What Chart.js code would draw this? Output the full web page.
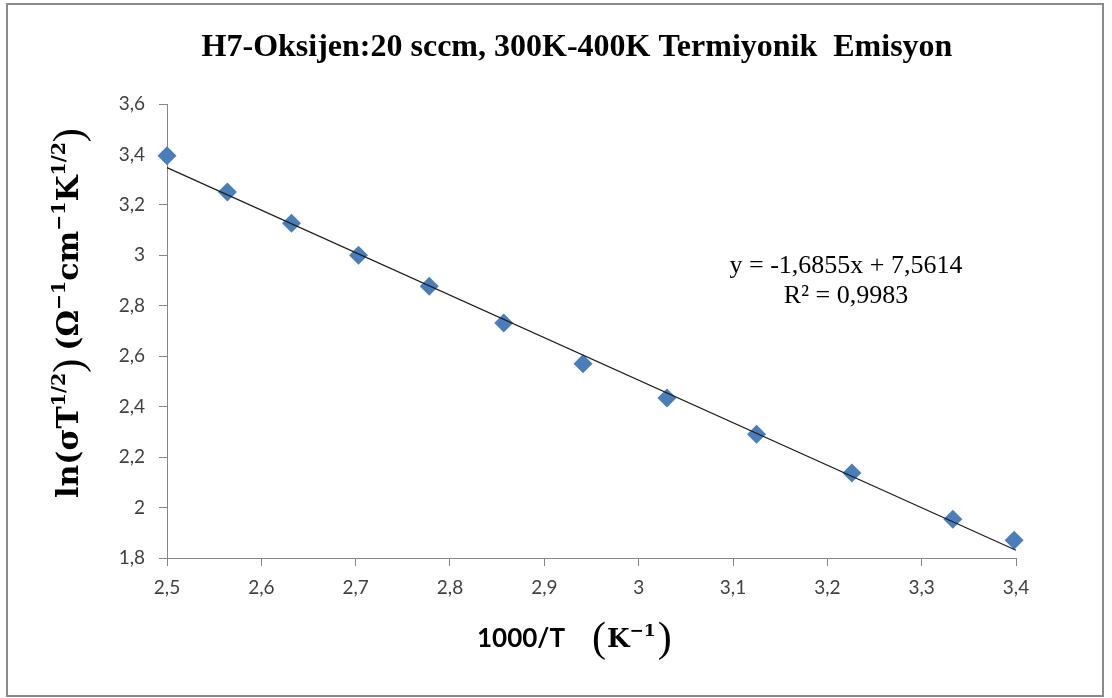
<!DOCTYPE html>
<html>
<head>
<meta charset="utf-8">
<script src="https://cdn.jsdelivr.net/npm/chart.js@4.4.0/dist/chart.umd.min.js"></script>
<style>
  html, body { margin: 0; padding: 0; background: #fff; }
  #wrap { width: 1112px; height: 698px; }
</style>
</head>
<body>
<div id="wrap"><canvas id="chart" width="1112" height="698"></canvas></div>
<script>
// 1000/T (K^-1) and ln(sigma*T^1/2) for each temperature step
const invT = [2.5, 2.564, 2.632, 2.703, 2.778, 2.857, 2.941, 3.03, 3.125, 3.226, 3.333, 3.398];
const lnSigmaT = [3.395, 3.251, 3.127, 3.0, 2.877, 2.732, 2.57, 2.434, 2.291, 2.137, 1.954, 1.87];

// linear fit reported on the chart
const fitSlope = -1.6855;
const fitIntercept = 7.5614;
const fitR2 = 0.9983;

const xRange = [2.5, 3.4];
const yRange = [1.8, 3.6];
const xStep = 0.1;
const yStep = 0.2;

const titleText = 'H7-Oksijen:20 sccm, 300K-400K Termiyonik  Emisyon';

const comma = v => String(Number(v.toFixed(4))).replace('.', ',');

const points = invT.map((x, i) => ({ x: x, y: lnSigmaT[i] }));
const fitLine = xRange.map(x => ({ x: x, y: fitSlope * x + fitIntercept }));

// draw a row of text pieces (font / baseline shift per piece)
function drawRuns(ctx, runs, x, y) {
  let cx = x;
  for (const r of runs) {
    ctx.font = r.font;
    ctx.fillText(r.text, cx, y + (r.dy || 0));
    cx += ctx.measureText(r.text).width + (r.gap || 0);
  }
}

const SERIF_B = 'bold 30px "DejaVu Serif"';
const SUP = 'bold 19px "DejaVu Serif"';
const PAREN = '42px "Liberation Serif"';

const textPlugin = {
  id: 'texts',
  beforeDraw(chart) {
    const ctx = chart.ctx;
    ctx.save();
    ctx.fillStyle = '#fff';
    ctx.fillRect(0, 0, chart.width, chart.height);
    ctx.strokeStyle = '#8a8a8a';
    ctx.lineWidth = 2;
    ctx.strokeRect(7, 4, 1096, 692);
    ctx.restore();
  },
  afterDraw(chart) {
    const ctx = chart.ctx;
    ctx.save();
    ctx.fillStyle = '#000';
    ctx.textBaseline = 'alphabetic';

    // title
    ctx.textAlign = 'center';
    ctx.font = 'bold 32px "Liberation Serif"';
    ctx.fillText(titleText, 577, 56);

    // fit equation
    ctx.font = '26px "Liberation Serif"';
    ctx.fillText('y = ' + comma(fitSlope) + 'x + ' + comma(fitIntercept), 846, 273);
    ctx.fillText('R\u00b2 = ' + comma(fitR2), 846, 303);

    ctx.textAlign = 'left';

    // x axis title
    drawRuns(ctx, [
      { text: '1000/T', font: 'bold 26px Lato', gap: 27 },
      { text: '(', font: PAREN, dy: 4, gap: 1 },
      { text: 'K', font: 'bold 26px "DejaVu Serif"' },
      { text: '\u22121', font: 'bold 17px "DejaVu Serif"', dy: -11, gap: 2 },
      { text: ')', font: PAREN, dy: 4 }
    ], 477, 647);

    // y axis title, rotated
    ctx.translate(78, 498);
    ctx.rotate(-Math.PI / 2);
    drawRuns(ctx, [
      { text: 'ln(\u03c3T', font: SERIF_B },
      { text: '1/2', font: SUP, dy: -13 },
      { text: ')', font: PAREN, dy: 4, gap: 8 },
      { text: '(\u03a9', font: SERIF_B },
      { text: '\u22121', font: SUP, dy: -13 },
      { text: 'cm', font: SERIF_B },
      { text: '\u22121', font: SUP, dy: -13 },
      { text: 'K', font: SERIF_B },
      { text: '1/2', font: SUP, dy: -13 },
      { text: ')', font: PAREN, dy: 4 }
    ], 0, 0);
    ctx.restore();
  }
};

const axisColor = '#868686';
const tickFont = { family: 'Lato', size: 19 };

new Chart(document.getElementById('chart'), {
  type: 'scatter',
  data: {
    datasets: [
      {
        label: 'fit',
        data: fitLine,
        showLine: true,
        borderColor: '#1e1e1e',
        borderWidth: 1.2,
        pointRadius: 0,
        order: 0,
        clip: false
      },
      {
        label: 'data',
        data: points,
        pointStyle: 'rectRot',
        pointRadius: 9.5,
        backgroundColor: '#4a7ebb',
        borderColor: '#4a7ebb',
        borderWidth: 0,
        order: 1,
        clip: false
      }
    ]
  },
  options: {
    responsive: false,
    animation: false,
    layout: { padding: { left: 0, right: 96, top: 104, bottom: 0 } },
    plugins: {
      legend: { display: false },
      title: { display: false },
      tooltip: { enabled: false }
    },
    scales: {
      x: {
        type: 'linear',
        min: xRange[0],
        max: xRange[1],
        afterFit: s => { s.height = 140; },
        ticks: {
          stepSize: xStep,
          padding: 10,
          color: '#404040',
          font: tickFont,
          maxRotation: 0,
          callback: v => comma(v)
        },
        grid: { drawOnChartArea: false, drawTicks: true, tickLength: 8, color: axisColor },
        border: { color: axisColor, width: 1 }
      },
      y: {
        type: 'linear',
        min: yRange[0],
        max: yRange[1],
        afterFit: s => { s.width = 167; },
        ticks: {
          stepSize: yStep,
          padding: 14,
          color: '#404040',
          font: tickFont,
          callback: v => comma(v)
        },
        grid: { drawOnChartArea: false, drawTicks: true, tickLength: 8, color: axisColor },
        border: { color: axisColor, width: 1 }
      }
    }
  },
  plugins: [textPlugin]
});
</script>
</body>
</html>
